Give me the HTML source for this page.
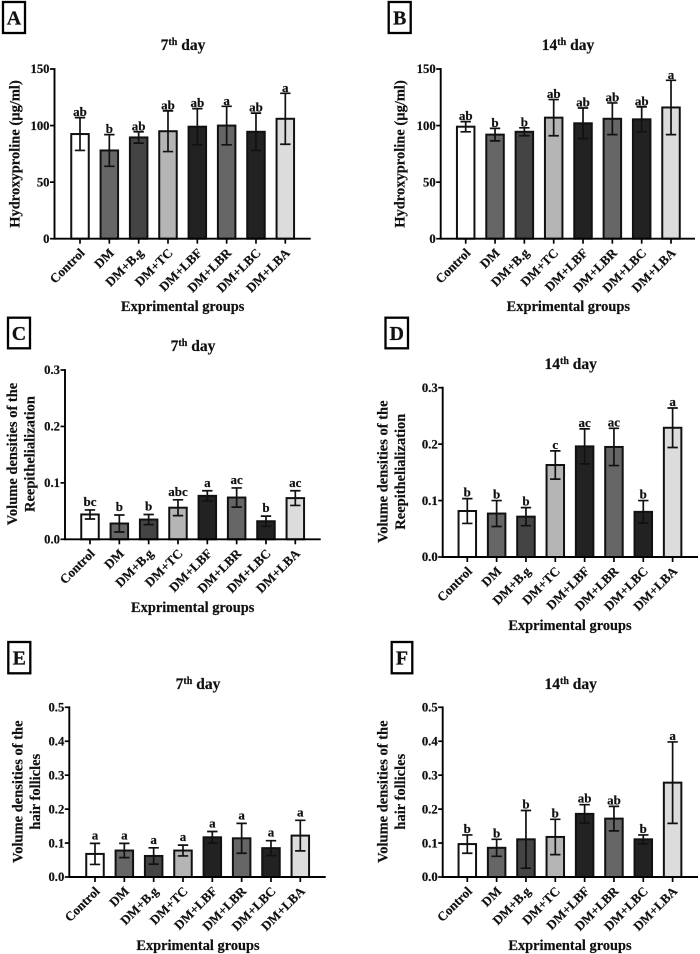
<!DOCTYPE html>
<html lang="en">
<head>
<meta charset="utf-8">
<title>Hydroxyproline, reepithelialization and hair follicle charts</title>
<style>
  html, body { margin: 0; padding: 0; background: #fff; }
  #figure { display: block; width: 700px; height: 954px; }
  text { font-family: "Liberation Serif", serif; font-weight: bold; fill: #111; stroke: #111; stroke-width: 0.2px; }
</style>
</head>
<body>
<svg id="figure" xmlns="http://www.w3.org/2000/svg" width="700" height="954" viewBox="0 0 700 954"></svg>
<script>
const categories = ['Control', 'DM', 'DM+B.g', 'DM+TC', 'DM+LBF', 'DM+LBR', 'DM+LBC', 'DM+LBA'];

const hydroxyTicks = [0, 50, 100, 150];
const reepTicks = [0, 0.1, 0.2, 0.3];
const follicleTicks = [0, 0.1, 0.2, 0.3, 0.4, 0.5];

const meansA = [92.5, 78, 89.5, 95, 99, 100, 94.5, 106];
const errorsA = [14.5, 14, 5, 18, 16, 17, 16.5, 22.5];
const lettersA = ['ab', 'b', 'ab', 'ab', 'ab', 'a', 'ab', 'a'];

const meansB = [99, 92, 94.5, 107, 102, 106, 105.5, 116];
const errorsB = [4.5, 5.5, 3.5, 16, 13.5, 14, 11, 24];
const lettersB = ['ab', 'b', 'b', 'ab', 'ab', 'ab', 'ab', 'a'];

const meansC = [0.044, 0.028, 0.035, 0.056, 0.077, 0.074, 0.032, 0.073];
const errorsC = [0.008, 0.015, 0.009, 0.014, 0.009, 0.017, 0.009, 0.013];
const lettersC = ['bc', 'b', 'b', 'abc', 'a', 'ac', 'b', 'ac'];

const meansD = [0.0815, 0.077, 0.0715, 0.163, 0.196, 0.195, 0.08, 0.229];
const errorsD = [0.022, 0.023, 0.016, 0.025, 0.031, 0.033, 0.02, 0.035];
const lettersD = ['b', 'b', 'b', 'c', 'ac', 'ac', 'b', 'a'];

const meansE = [0.068, 0.078, 0.062, 0.078, 0.117, 0.114, 0.085, 0.122];
const errorsE = [0.031, 0.021, 0.024, 0.016, 0.017, 0.044, 0.022, 0.045];
const lettersE = ['a', 'a', 'a', 'a', 'a', 'a', 'a', 'a'];

const meansF = [0.097, 0.086, 0.111, 0.118, 0.186, 0.172, 0.111, 0.278];
const errorsF = [0.027, 0.025, 0.085, 0.052, 0.027, 0.036, 0.013, 0.12];
const lettersF = ['b', 'b', 'b', 'b', 'ab', 'ab', 'b', 'a'];

const barFills = ['#ffffff', '#666666', '#444444', '#b5b5b5', '#222222', '#666666', '#222222', '#dcdcdc'];

const panels = [
  { id: 'a', label: 'A', box: [2, 1, 24, 33], ax: 54.5, top: 69, base: 238.7, first: 80, end: 310.7,
    day: '7', titleX: 183, titleY: 50, xTitleX: 182.7, xTitleY: 311, letterGap: 1.5,
    yTitle: ['Hydroxyproline (µg/ml)'], yTitleX: [19.5], yTitleY: 154,
    ticks: hydroxyTicks, fmt: 0, means: meansA, errors: errorsA, letters: lettersA },
  { id: 'b', label: 'B', box: [387.7, 1, 24, 33], ax: 440.7, top: 69, base: 238.7, first: 465.7, end: 695,
    day: '14', titleX: 568, titleY: 50, xTitleX: 568.3, xTitleY: 311, letterGap: 1.5,
    yTitle: ['Hydroxyproline (µg/ml)'], yTitleX: [404.5], yTitleY: 154,
    ticks: hydroxyTicks, fmt: 0, means: meansB, errors: errorsB, letters: lettersB },
  { id: 'c', label: 'C', box: [7, 316.7, 24, 32.6], ax: 65, top: 370, base: 539.3, first: 90, end: 320.7,
    day: '7', titleX: 193, titleY: 351, xTitleX: 192.7, xTitleY: 612, letterGap: 4,
    yTitle: ['Volume densities of the', 'Reepithelialization'], yTitleX: [17, 34.5], yTitleY: 454,
    ticks: reepTicks, fmt: 1, means: meansC, errors: errorsC, letters: lettersC },
  { id: 'd', label: 'D', box: [384.5, 316.7, 24.5, 32.6], ax: 442.7, top: 387.7, base: 557, first: 467.3, end: 698,
    day: '14', titleX: 570.7, titleY: 369, xTitleX: 570, xTitleY: 630, letterGap: 2,
    yTitle: ['Volume densities of the', 'Reepithelialization'], yTitleX: [387.5, 405], yTitleY: 471.7,
    ticks: reepTicks, fmt: 1, means: meansD, errors: errorsD, letters: lettersD },
  { id: 'e', label: 'E', box: [7.3, 641, 24, 33.3], ax: 69.3, top: 707.3, base: 877, first: 95, end: 325.7,
    day: '7', titleX: 198, titleY: 689, xTitleX: 198, xTitleY: 950, letterGap: 4,
    yTitle: ['Volume densities of the', 'hair follicles'], yTitleX: [22.5, 40], yTitleY: 791.7,
    ticks: follicleTicks, fmt: 1, means: meansE, errors: errorsE, letters: lettersE },
  { id: 'f', label: 'F', box: [390.7, 641, 22.6, 33.3], ax: 442.7, top: 707.3, base: 877, first: 467.3, end: 698,
    day: '14', titleX: 570.7, titleY: 689, xTitleX: 570, xTitleY: 950, letterGap: 2,
    yTitle: ['Volume densities of the', 'hair follicles'], yTitleX: [387.5, 405], yTitleY: 791.7,
    ticks: follicleTicks, fmt: 1, means: meansF, errors: errorsF, letters: lettersF }
];

const SVG_NS = 'http://www.w3.org/2000/svg';
const figure = document.getElementById('figure');
const STEP = 29.33;
const BAR_W = 17.5;

function make(tag, attrs, parent, content) {
  const node = document.createElementNS(SVG_NS, tag);
  for (const key in attrs) node.setAttribute(key, attrs[key]);
  if (content !== undefined) node.textContent = content;
  parent.appendChild(node);
  return node;
}

function drawPanel(p) {
  const yMax = p.ticks[p.ticks.length - 1];
  const yScale = function (v) { return p.base - (v / yMax) * (p.base - p.top); };
  const xScale = function (i) { return p.first + i * STEP; };
  let el;

  const g = make('g', {}, figure);
  
  

  el = make('rect', { x: p.box[0] + 1, y: p.box[1] + 1, width: p.box[2] - 2, height: p.box[3] - 2, fill: '#fff', stroke: '#000', 'stroke-width': 2.3 }, g);
  
  

  el = make('text', { x: p.box[0] + p.box[2] / 2, y: p.box[1] + p.box[3] / 2 + 7, 'text-anchor': 'middle', 'font-size': 20 }, g, p.label);
  
  

  const title = make('text', { x: p.titleX, y: p.titleY, 'text-anchor': 'middle', 'font-size': 15.5 }, g);
  
  
  make('tspan', {}, title, p.day);
  make('tspan', { dy: -5, 'font-size': 10 }, title, 'th');
  make('tspan', { dy: 5 }, title, ' day');

  p.yTitle.forEach(function (line, i) {
    el = make('text', { transform: 'translate(' + p.yTitleX[i] + ',' + p.yTitleY + ') rotate(-90)', 'text-anchor': 'middle', 'font-size': 14.5 }, g, line);
    
    
  });

  el = make('text', { x: p.xTitleX, y: p.xTitleY, 'text-anchor': 'middle', 'font-size': 14.4 }, g, 'Exprimental groups');
  
  

  categories.forEach(function (cat, i) {
    const cx = xScale(i);
    const yTop = yScale(p.means[i]);

    el = make('rect', { x: cx - BAR_W / 2, y: yTop, width: BAR_W, height: p.base - yTop, fill: barFills[i], stroke: '#111', 'stroke-width': 2 }, g);
    
    

    const hi = yScale(p.means[i] + p.errors[i]);
    const lo = yScale(p.means[i] - p.errors[i]);
    el = make('path', { d: 'M' + cx + ' ' + hi + 'V' + lo + 'M' + (cx - 5.2) + ' ' + hi + 'H' + (cx + 5.2) + 'M' + (cx - 5.2) + ' ' + lo + 'H' + (cx + 5.2), fill: 'none', stroke: '#111', 'stroke-width': 1.7 }, g);
    
    

    el = make('text', { x: cx, y: hi - p.letterGap, 'text-anchor': 'middle', 'font-size': 13 }, g, p.letters[i]);
    
    

    el = make('line', { x1: cx, x2: cx, y1: p.base, y2: p.base + 5, stroke: '#000', 'stroke-width': 1.7 }, g);
    
    

    el = make('text', { transform: 'translate(' + (cx + 5.5) + ',' + (p.base + 15) + ') rotate(-45)', 'text-anchor': 'end', 'font-size': 13 }, g, cat);
    
    
  });

  p.ticks.forEach(function (t) {
    const y = yScale(t);
    el = make('line', { x1: p.ax - 4.5, x2: p.ax, y1: y, y2: y, stroke: '#000', 'stroke-width': 1.7 }, g);
    
    

    el = make('text', { x: p.ax - 5, y: y + 4.2, 'text-anchor': 'end', 'font-size': 12.7 }, g, t.toFixed(p.fmt));
    
    
  });

  el = make('line', { x1: p.ax, x2: p.ax, y1: p.top - 0.9, y2: p.base + 0.9, stroke: '#000', 'stroke-width': 1.9 }, g);
  
  

  el = make('line', { x1: p.ax, x2: p.end, y1: p.base, y2: p.base, stroke: '#000', 'stroke-width': 1.9 }, g);
  
  
}

panels.forEach(drawPanel);
</script>
</body>
</html>
